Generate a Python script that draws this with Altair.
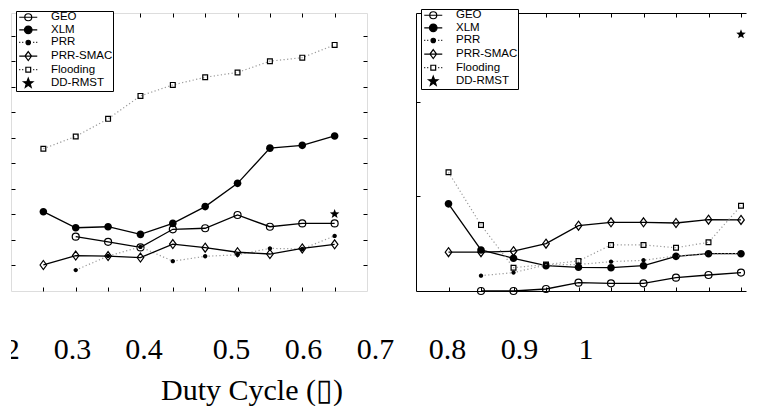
import math
import altair as alt
import pandas as pd

# ---------------- data (y units are arbitrary: the panels carry no tick labels)
duty = [0.1, 0.2, 0.3, 0.4, 0.5, 0.6, 0.7, 0.8, 0.9, 1.0]
series_names = ["GEO", "XLM", "PRR", "PRR-SMAC", "Flooding", "DD-RMST"]

left_geo = [None, 2.13, 1.93, 1.71, 2.42, 2.46, 2.98, 2.52, 2.65, 2.65]
left_xlm = [3.11, 2.48, 2.52, 2.22, 2.65, 3.31, 4.22, 5.60, 5.71, 6.08]
left_prr = [None, 0.82, 1.37, 1.73, 1.17, 1.36, 1.42, 1.67, 1.65, 2.16]
left_prr_smac = [1.02, 1.39, 1.37, 1.31, 1.84, 1.70, 1.52, 1.45, 1.67, 1.83]
left_flooding = [5.58, 6.06, 6.75, 7.65, 8.08, 8.38, 8.57, 9.01, 9.15, 9.65]
left_dd_rmst = [None, None, None, None, None, None, None, None, None, 3.02]

right_geo = [None, 0.0, 0.0, 0.021, 0.088, 0.081, 0.081, 0.141, 0.169, 0.194]
right_xlm = [0.92, 0.433, 0.345, 0.267, 0.25, 0.246, 0.267, 0.366, 0.394, 0.394]
right_prr = [None, 0.162, 0.194, 0.275, 0.28, 0.31, 0.324, 0.37, 0.39, 0.395]
right_prr_smac = [0.41, 0.41, 0.42, 0.50, 0.69, 0.725, 0.725, 0.718, 0.753, 0.75]
right_flooding = [1.253, 0.697, 0.246, 0.28, 0.317, 0.486, 0.486, 0.457, 0.514, 0.90]
right_dd_rmst = [None, None, None, None, None, None, None, None, None, 2.71]

left_y_ticks = [1, 2, 3, 4, 5, 6, 7, 8, 9, 10]
right_y_ticks = [1, 2]

bottom_labels = ["0.2", "0.3", "0.4", "0.5", "0.6", "0.7", "0.8", "0.9", "1"]
bottom_label_values = [0.2, 0.3, 0.4, 0.5, 0.6, 0.7, 0.8, 0.9, 1.0]
x_title = "Duty Cycle (\u25af)"


def long_table(cols):
    rows = []
    for name, vals in zip(series_names, cols):
        for d, v in zip(duty, vals):
            if v is not None:
                rows.append({"duty": d, "value": v, "series": name})
    return pd.DataFrame(rows)


left_df = long_table([left_geo, left_xlm, left_prr, left_prr_smac, left_flooding, left_dd_rmst])
right_df = long_table([right_geo, right_xlm, right_prr, right_prr_smac, right_flooding, right_dd_rmst])

# ---------------- marker shapes (pixel units, used with size=4)
def circle(r):
    return f"M{r},0A{r},{r} 0 1,1 {-r},0A{r},{r} 0 1,1 {r},0Z"


def diamond(w, h):
    return f"M0,{-h}L{w},0L0,{h}L{-w},0Z"


def square(s):
    return f"M{-s},{-s}H{s}V{s}H{-s}Z"


def star(R, r):
    pts = []
    for k in range(10):
        a = math.radians(-90 + 36 * k)
        rad = R if k % 2 == 0 else r
        pts.append(f"{rad * math.cos(a):.2f},{rad * math.sin(a):.2f}")
    return "M" + "L".join(pts) + "Z"


SOLID = "M-9,0H9"
DOTTED = "M-9,0h1M-6,0h1M5,0h1M8,0h1"

STYLE = {
    "GEO": dict(line=True, dash=None, lc="black", lw=1.3, marker=circle(3.5), filled=False),
    "XLM": dict(line=True, dash=None, lc="black", lw=1.3, marker=circle(3.8), filled=True),
    "PRR": dict(line=True, dash=[1.2, 2.4], lc="#999999", lw=1.2, marker=circle(2.2), filled=True),
    "PRR-SMAC": dict(line=True, dash=None, lc="black", lw=1.3, marker=diamond(3.3, 4.5), filled=False),
    "Flooding": dict(line=True, dash=[1.2, 2.4], lc="#999999", lw=1.2, marker=square(2.4), filled=False),
    "DD-RMST": dict(line=False, dash=None, lc="black", lw=1.3, marker=star(5, 2.1), filled=True),
}

legend_paths = [
    SOLID + circle(3.5),
    SOLID + circle(3.8),
    DOTTED + circle(2.2),
    SOLID + diamond(3.3, 4.5),
    DOTTED + square(2.4),
    star(5, 2.1),
]
legend_fills = ["transparent", "black", "black", "transparent", "transparent", "black"]
legend_strokes = ["black", "black", "black", "black", "black", "black"]
NBSP5 = "\u00a0\u00a0\u00a0\u00a0\u00a0"


def tick_axis(orient, values):
    return alt.Axis(orient=orient, values=values, labels=False, title=None, domain=False,
                    grid=False, ticks=True, tickSize=4, offset=-4, tickColor="black", tickWidth=1)


def frame_axis(orient):
    return alt.Axis(orient=orient, labels=False, title=None, domain=True, domainColor="black",
                    domainWidth=1, grid=False, ticks=False)


def panel(df, x_max, y_max, w, h, y_ticks, boxed, lx, ly):
    xs = alt.Scale(domain=[0, x_max], nice=False, zero=False)
    ys = alt.Scale(domain=[0, y_max], nice=False, zero=False)
    base = alt.Chart(df)
    layers = []
    for name in series_names:
        st = STYLE[name]
        sub = base.transform_filter(alt.datum.series == name)
        enc = dict(x=alt.X("duty:Q", scale=xs, axis=None), y=alt.Y("value:Q", scale=ys, axis=None))
        if st["line"]:
            kw = dict(color=st["lc"], strokeWidth=st["lw"])
            if st["dash"]:
                kw["strokeDash"] = st["dash"]
            layers.append(sub.mark_line(**kw).encode(**enc))
        layers.append(sub.mark_point(shape=st["marker"], size=4, filled=st["filled"], color="black",
                                     strokeWidth=1.2, opacity=1).encode(**enc))

    legend = alt.Legend(title=None, orient="none", legendX=lx, legendY=ly, padding=0.5,
                        strokeColor="black", fillColor="white", labelFont="Liberation Sans",
                        labelFontSize=11.5, labelColor="black", labelOffset=17, symbolSize=4,
                        symbolOffset=6, symbolStrokeWidth=1.2, symbolStrokeColor="black",
                        symbolOpacity=1, rowPadding=-0.4, labelExpr=f"datum.label + '{NBSP5}'")
    # invisible carrier: legend + inward ticks on bottom/left
    carrier = base.mark_point(opacity=0, size=1, clip=True, strokeWidth=1.2).encode(
        x=alt.X("duty:Q", scale=xs, axis=tick_axis("bottom", duty)),
        y=alt.Y("value:Q", scale=ys, axis=tick_axis("left", y_ticks)),
        shape=alt.Shape("series:N", scale=alt.Scale(domain=series_names, range=legend_paths), legend=legend),
        fill=alt.Fill("series:N", scale=alt.Scale(domain=series_names, range=legend_fills), legend=legend),
        stroke=alt.Stroke("series:N", scale=alt.Scale(domain=series_names, range=legend_strokes), legend=legend),
    )
    layers.append(carrier)
    hidden = base.mark_point(opacity=0, size=1, clip=True)
    top_enc = dict(x=alt.X("duty:Q", scale=xs, axis=tick_axis("top", duty)))
    if boxed:
        top_enc["y"] = alt.Y("value:Q", scale=ys, axis=tick_axis("right", y_ticks))
    else:
        top_enc["y"] = alt.Y("value:Q", scale=ys, axis=None)
    layers.append(hidden.encode(**top_enc))
    props = dict(width=w, height=h)
    if not boxed:
        # frame drawn on three sides only (the right side runs off the picture)
        layers.append(hidden.encode(x=alt.X("duty:Q", scale=xs, axis=frame_axis("bottom")),
                                    y=alt.Y("value:Q", scale=ys, axis=frame_axis("left"))))
        layers.append(hidden.encode(x=alt.X("duty:Q", scale=xs, axis=frame_axis("top")),
                                    y=alt.Y("value:Q", scale=ys, axis=None)))
        props["view"] = alt.ViewBackground(stroke="transparent")
    return alt.layer(*layers).resolve_axis(x="independent", y="independent").properties(**props)


left = panel(left_df, 1.1, 10.9, 356, 278, left_y_ticks, True, 5, -2)
right = panel(right_df, 1.01538, 2.935, 330, 278, right_y_ticks, False, 5, -4)

top = alt.hconcat(left, right, spacing=49, bounds="flush").resolve_scale(
    x="independent", y="independent", shape="independent", fill="independent", stroke="independent"
).resolve_legend(shape="independent", fill="independent", stroke="independent")

bottom_df = pd.DataFrame({"duty": bottom_label_values, "label": bottom_labels})
bottom = alt.Chart(bottom_df).mark_text(
    font="Liberation Serif", fontSize=30, clip=True, align="center", baseline="middle", color="black"
).encode(
    x=alt.X("duty:Q",
            scale=alt.Scale(domain=[0.2, 0.4, 0.5, 0.9, 1.0], range=[-10, 133, 220.6, 508.4, 575],
                            nice=False, zero=False),
            axis=alt.Axis(labels=False, ticks=False, domain=False, grid=False, title=x_title,
                          titleFont="Liberation Serif", titleFontSize=30, titleFontWeight="normal",
                          titleColor="black", titleX=240.5, titleAlign="center",
                          titleBaseline="alphabetic", titlePadding=29)),
    y=alt.value(49),
    text="label:N",
).properties(width=600, height=70, view=alt.ViewBackground(stroke="transparent"))

chart = alt.vconcat(top, bottom, spacing=1.5).resolve_scale(
    x="independent", y="independent", shape="independent", fill="independent", stroke="independent"
).properties(
    padding={"left": 2, "top": 0, "right": 0, "bottom": 0}
).configure_view(stroke="black", strokeWidth=1).configure_legend(strokeWidth=1.8).configure(background="white")

chart.save("out.html", embed_options={"renderer": "svg", "actions": False})
